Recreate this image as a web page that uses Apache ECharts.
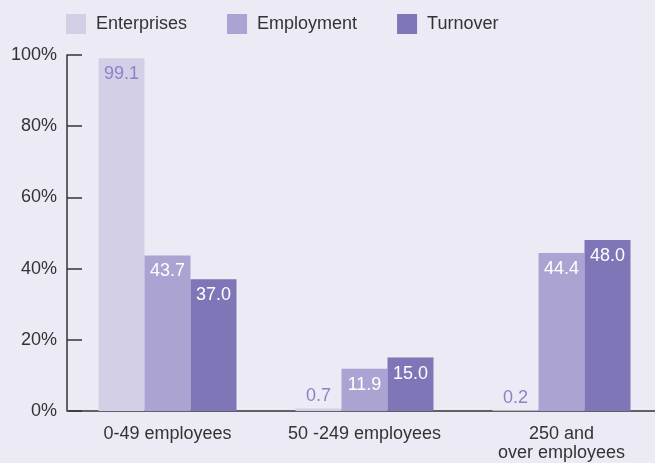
<!DOCTYPE html>
<html><head><meta charset="utf-8">
<script src="https://cdn.jsdelivr.net/npm/echarts@6/dist/echarts.min.js"></script>
<style>html,body{margin:0;padding:0;background:#ECEAF4;}#c{width:655px;height:463px;}</style>
</head><body><div id="c"></div>
<script>
const categories = ['0-49 employees', '50 -249 employees', '250 and\nover employees'];
const seriesNames = ['Enterprises', 'Employment', 'Turnover'];
const enterprises = [99.1, 0.7, 0.2];
const employment = [43.7, 11.9, 44.4];
const turnover = [37.0, 15.0, 48.0];
const yTicks = [0, 20, 40, 60, 80, 100];

const colors = ['#D2CFE7', '#ABA4D3', '#7F76B8'];
const labelColors = ['#8B83C6', '#FFFFFF', '#FFFFFF'];
const font = '"Liberation Sans", Arial, sans-serif';

function mk(name, vals, i) {
  return {
    name: name, type: 'bar', barWidth: 46, barGap: '0%',
    itemStyle: { color: colors[i] },
    data: vals.map(v => {
      const small = v < 5;
      return {
        value: v,
        label: {
          show: true,
          position: small ? 'top' : 'insideTop',
          distance: small ? 3 : 7,
          color: small ? '#8B83C6' : labelColors[i],
          fontSize: 18, fontFamily: font,
          formatter: p => p.value.toFixed(1)
        }
      };
    })
  };
}

const chart = echarts.init(document.getElementById('c'));
chart.setOption({
  backgroundColor: '#ECEAF4',
  animation: false,
  legend: {
    left: 66, top: 14, padding: 0, itemWidth: 20, itemHeight: 20, itemGap: 40,
    icon: 'rect',
    textStyle: { fontSize: 18, color: '#333', fontFamily: font, padding: [0, 0, 0, 5] },
    data: seriesNames
  },
  grid: { left: 69, width: 591, top: 55, bottom: 52, containLabel: false, outerBoundsMode: 'none' },
  xAxis: {
    type: 'category', data: categories,
    axisLine: { lineStyle: { color: '#333', width: 1.5 } },
    axisTick: { show: false },
    axisLabel: { fontSize: 18, color: '#333', fontFamily: font, margin: 14, lineHeight: 19, interval: 0 }
  },
  yAxis: {
    type: 'value', min: 0, max: 100, interval: 20, offset: 2,
    axisLine: { show: true, lineStyle: { color: '#333', width: 1.5 } },
    axisTick: { show: true, inside: true, length: 15, lineStyle: { color: '#333', width: 1.5 } },
    splitLine: { show: false },
    axisLabel: { fontSize: 18, color: '#333', fontFamily: font, margin: 10,
      formatter: v => yTicks.includes(v) ? v + '%' : '' }
  },
  series: [mk(seriesNames[0], enterprises, 0), mk(seriesNames[1], employment, 1), mk(seriesNames[2], turnover, 2)]
});
</script></body></html>
